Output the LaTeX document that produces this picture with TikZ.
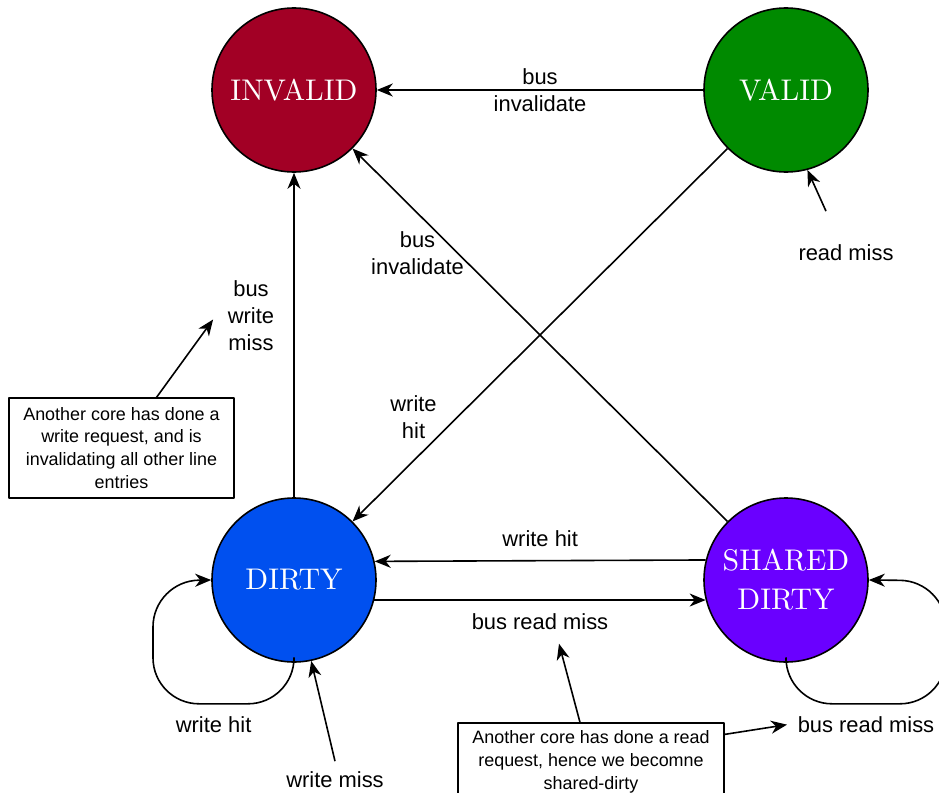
\documentclass[tikz,border=0pt]{standalone}
\usepackage{fontspec}
\setsansfont{Liberation Sans}
\newfontfamily\statefont{lmroman10-regular.otf}
\usetikzlibrary{arrows.meta}
\definecolor{invalidred}{HTML}{A20025}
\definecolor{validgreen}{HTML}{008A00}
\definecolor{dirtyblue}{HTML}{0050EF}
\definecolor{shpurple}{HTML}{6A00FF}
\begin{document}
\begin{tikzpicture}[x=1bp,y=-1bp,>={Stealth[length=16bp,width=13bp,inset=5bp]},line join=round,line width=1.6bp,
	state/.style={circle,draw,minimum size=164bp,inner sep=0pt,text=white,align=center,font=\statefont\fontsize{30}{39}\selectfont},
	lbl/.style={font=\sffamily\fontsize{22}{27}\selectfont,align=center,inner sep=2bp},
	note/.style={draw,line width=1.2bp,fill=white,font=\sffamily\fontsize{18}{23}\selectfont,align=center}]
		\useasboundingbox (0,0) rectangle (939,793);
		\clip (0,0) rectangle (939,793);
		\node[state,fill=invalidred] (inv) at (294,90) {INVALID};
		\node[state,fill=validgreen] (val) at (786,90) {VALID};
		\node[state,fill=dirtyblue] (dirty) at (294,580) {DIRTY};
		\node[state,fill=shpurple] (shd) at (786,580) {SHARED\\DIRTY};
		\draw[->] (val)--(inv) node[lbl,midway]{bus\\invalidate};
		\draw[->] (shd.135)--(inv.-45) node[lbl,pos=.72,xshift=-40bp]{bus\\invalidate};
		\draw[->] (val.-135)--(dirty.45) node[lbl,pos=.72,xshift=-44bp]{write\\hit};
		\draw[->] (dirty)--(inv) node[lbl,pos=.56,xshift=-43bp] (bwm) {bus\\write\\miss};
		\draw[->] (shd.166.6)--(dirty.13.4) node[lbl,midway,above=11bp]{write hit};
		\draw[->] (dirty.-14.8)--(shd.194.8) node[lbl,midway,below=11bp] (brm) {bus read miss};
		\draw[->,rounded corners=46bp] (dirty.south)--++(0,41)--++(-141,0) node[lbl,pos=.57,below=10bp]{write hit}--++(0,-123)--(dirty.west);
		\draw[->,rounded corners=46bp] (shd.south)--++(0,41)--++(160,0) node[lbl,midway,below=10bp] (brmloop) {bus read miss}--++(0,-123)--(shd.east);
		\node[lbl] (rm) at (846,253) {read miss};
		\draw[->] ([xshift=-20bp,yshift=31bp]rm.north)--(val.-75);
		\node[lbl] (wm) at (335,780) {write miss};
		\draw[->] ([yshift=8bp]wm.north)--(dirty.-78);
		\node[note,minimum width=225bp,minimum height=100bp] (noteinv) at (121.5,448) {Another core has done a\\write request, and is\\invalidating all other line\\entries};
		\draw[->] ([xshift=35bp]noteinv.north)--([xshift=-12bp,yshift=-4bp]bwm.west);
		\node[note,minimum width=266bp,minimum height=78bp] (noteshd) at (591,762) {Another core has done a read\\request, hence we becomne\\shared-dirty};
		\draw[->] ([xshift=-11bp]noteshd.north)--([xshift=19bp,yshift=-11bp]brm.south);
		\draw[->] ([yshift=-12bp]noteshd.north east)--([xshift=-8bp]brmloop.west);
\end{tikzpicture}
\end{document}
